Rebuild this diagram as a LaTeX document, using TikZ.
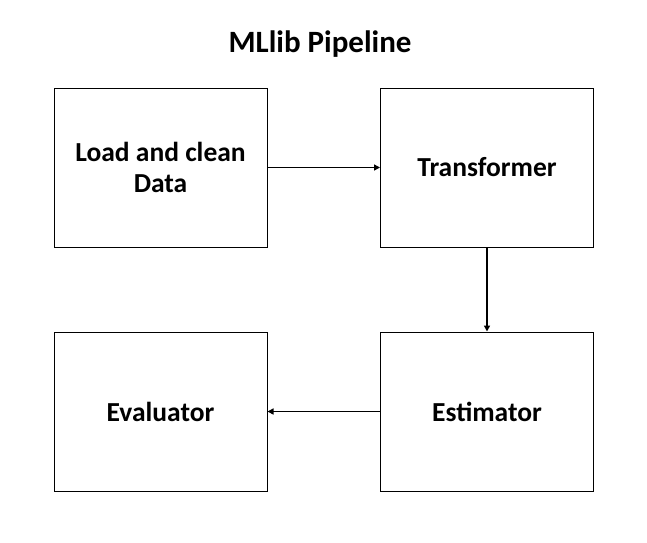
\documentclass[tikz,border=0pt]{standalone}
\usepackage{fontspec}
\setmainfont{Carlito}
\usetikzlibrary{arrows.meta}
\begin{document}
\begin{tikzpicture}[x=1pt,y=-1pt,
  box/.style={draw=black,line width=1pt,minimum width=213pt,minimum height=159pt,inner sep=0pt,font=\fontsize{27.5}{31}\selectfont\bfseries,align=center},
  conn/.style={line width=1.8pt,-{Triangle[length=6pt,width=6pt]}}]
\useasboundingbox (0,0) rectangle (647,542);
\node[font=\fontsize{31}{36}\selectfont\bfseries] (title) at (320,44) {MLlib Pipeline};
\node[box] (load) at (160.5,167.5) {Load and clean\\Data};
\node[box] (trans) at (487,167.5) {Transformer};
\node[box] (est) at (487,411.5) {Estimator};
\node[box] (eval) at (160.5,411.5) {Evaluator};
\draw[conn] (load.east) -- (trans.west);
\draw[conn] (trans.south) -- (est.north);
\draw[conn] (est.west) -- (eval.east);
\end{tikzpicture}
\end{document}
